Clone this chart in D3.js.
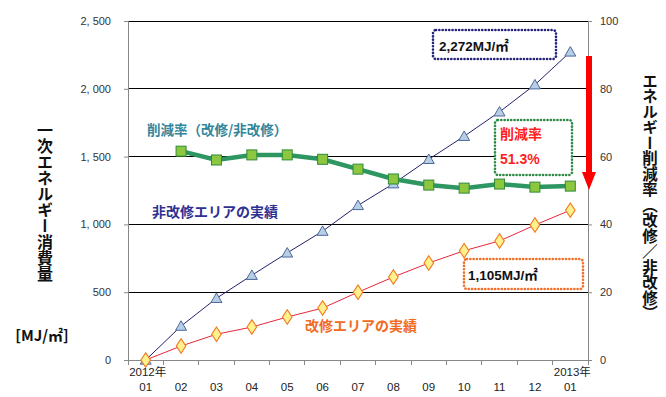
<!DOCTYPE html>
<html><head><meta charset="utf-8">
<script src="https://cdn.jsdelivr.net/npm/d3@7"></script>
<style>
html,body{margin:0;padding:0;background:#fff;}
svg{display:block;}
</style></head>
<body><svg id="c" width="666" height="397"></svg>
<script>
const months = ["01","02","03","04","05","06","07","08","09","10","11","12","01b"];
const monthLabels = ["01","02","03","04","05","06","07","08","09","10","11","12","01"];
const yearLabels = {0:"2012年", 12:"2013年"};
const nonRenovated = [0, 250, 455, 625, 790, 950, 1140, 1300, 1480, 1650, 1830, 2030, 2272];
const renovated = [0, 103, 190, 243, 317, 383, 500, 612, 715, 806, 878, 995, 1105];
const reductionRate = [null, 61.6, 59.0, 60.5, 60.5, 59.2, 56.3, 53.4, 51.6, 50.7, 51.9, 51.0, 51.3];
const leftTicks = [0, 500, 1000, 1500, 2000, 2500];
const rightTicks = [0, 20, 40, 60, 80, 100];

const svg = d3.select("#c");
const L = 128, R = 588, T = 21, B = 360;
const x = d3.scaleBand().domain(months).range([L, R]);
const y = d3.scaleLinear().domain([0, 2500]).range([B, T]);
const y2 = d3.scaleLinear().domain([0, 100]).range([B, T]);
const cx = (i) => x(months[i]) + x.bandwidth() / 2;
const numFont = "'Liberation Sans', Arial, 'Noto Sans CJK JP', sans-serif";
const jpFont = "'Noto Sans CJK JP', sans-serif";

// gridlines
svg.append("g").selectAll("line").data(leftTicks.filter(d => d > 0)).join("line")
  .attr("x1", L).attr("x2", R).attr("y1", d => y(d)).attr("y2", d => y(d))
  .attr("stroke", "#000").attr("stroke-width", 1).attr("shape-rendering", "crispEdges");

// left axis
const la = svg.append("g").attr("transform", `translate(${L},0)`)
  .call(d3.axisLeft(y).tickValues(leftTicks).tickSize(4).tickPadding(13)
    .tickFormat(d => d3.format(",")(d).replace(",", ", ")));
la.select(".domain").attr("stroke", "#888");
la.selectAll(".tick line").attr("stroke", "#888");
la.selectAll("text").attr("font-family", numFont).attr("font-size", 11).attr("fill", "#333");

// right axis
const ra = svg.append("g").attr("transform", `translate(${R},0)`)
  .call(d3.axisRight(y2).tickValues(rightTicks).tickSize(4).tickPadding(8));
ra.select(".domain").attr("stroke", "#888");
ra.selectAll(".tick line").attr("stroke", "#888");
ra.selectAll("text").attr("font-family", numFont).attr("font-size", 11).attr("fill", "#333");

// bottom axis
svg.append("line").attr("x1", L).attr("x2", R).attr("y1", B).attr("y2", B)
  .attr("stroke", "#888").attr("shape-rendering", "crispEdges");
svg.append("g").selectAll("line").data(months.map((m, i) => i).concat([13])).join("line")
  .attr("x1", i => L + i * x.bandwidth()).attr("x2", i => L + i * x.bandwidth())
  .attr("y1", B).attr("y2", B + 5).attr("stroke", "#888").attr("shape-rendering", "crispEdges");
svg.append("g").selectAll("text").data(monthLabels).join("text")
  .attr("x", (d, i) => cx(i)).attr("y", 391).attr("text-anchor", "middle")
  .attr("font-family", numFont).attr("font-size", 11.5).attr("fill", "#222").text(d => d);
Object.entries(yearLabels).forEach(([i, t]) => {
  svg.append("text").attr("x", cx(+i) + 2).attr("y", 376).attr("text-anchor", "middle")
    .attr("font-family", numFont).attr("font-size", 11.5).attr("fill", "#222").text(t);
});

// non-renovated line (navy)
svg.append("path").datum(nonRenovated)
  .attr("d", d3.line().x((d, i) => cx(i)).y(d => y(d)))
  .attr("fill", "none").attr("stroke", "#22226e").attr("stroke-width", 1);
// renovated line (red)
svg.append("path").datum(renovated)
  .attr("d", d3.line().x((d, i) => cx(i)).y(d => y(d)))
  .attr("fill", "none").attr("stroke", "#e8283c").attr("stroke-width", 1);
// reduction line (green)
svg.append("path").datum(reductionRate)
  .attr("d", d3.line().defined(d => d != null).x((d, i) => cx(i)).y(d => y2(d)))
  .attr("fill", "none").attr("stroke", "#2e9660").attr("stroke-width", 4.5);

// markers
const tri = d3.symbol().type(d3.symbolTriangle).size(52);
svg.append("g").selectAll("path").data(nonRenovated).join("path")
  .attr("d", tri).attr("transform", (d, i) => `translate(${cx(i)},${y(d) + 1})`)
  .attr("fill", "#b9cde5").attr("stroke", "#4a6a9c").attr("stroke-width", 1);
const dia = d3.symbol().type(d3.symbolDiamond).size(60);
svg.append("g").selectAll("path").data(renovated).join("path")
  .attr("d", dia).attr("transform", (d, i) => `translate(${cx(i)},${y(d)}) scale(1.15,1)`)
  .attr("fill", "#fff18e").attr("stroke", "#f07a20").attr("stroke-width", 1);
svg.append("g").selectAll("rect").data(reductionRate.map((v, i) => ({v, i})).filter(d => d.v != null)).join("rect")
  .attr("x", d => cx(d.i) - 5).attr("y", d => y2(d.v) - 5).attr("width", 10).attr("height", 10)
  .attr("fill", "#8dc63f").attr("stroke", "#2e8b3a").attr("stroke-width", 1);

// series labels
svg.append("text").attr("x", 147).attr("y", 135).attr("font-family", jpFont).attr("font-weight", "bold")
  .attr("font-size", 13.5).attr("fill", "#31869b").text("削減率（改修/非改修）");
svg.append("text").attr("x", 152).attr("y", 217).attr("font-family", jpFont).attr("font-weight", "bold")
  .attr("font-size", 14).attr("fill", "#2e3192").text("非改修エリアの実績");
svg.append("text").attr("x", 305).attr("y", 331).attr("font-family", jpFont).attr("font-weight", "bold")
  .attr("font-size", 14).attr("fill", "#f26b22").text("改修エリアの実績");

// annotation boxes
function box(x0, y0, w, h, color) {
  svg.append("rect").attr("x", x0).attr("y", y0).attr("width", w).attr("height", h).attr("rx", 3)
    .attr("fill", "#fff").attr("stroke", color).attr("stroke-width", 2.6)
    .attr("stroke-dasharray", "0.1 3.2").attr("stroke-linecap", "round");
}
box(433, 30, 123, 29, "#23237a");
svg.append("text").attr("x", 439).attr("y", 51).attr("font-family", numFont).attr("font-weight", "bold")
  .attr("font-size", 13.5).attr("fill", "#111").text("2,272MJ/㎡");
box(495, 120, 77, 55, "#2e8b45");
svg.append("text").attr("x", 500).attr("y", 139).attr("font-family", jpFont).attr("font-weight", "bold")
  .attr("font-size", 14).attr("fill", "#ff1e1e").text("削減率");
svg.append("text").attr("x", 500).attr("y", 164).attr("font-family", numFont).attr("font-weight", "bold")
  .attr("font-size", 14).attr("fill", "#ff1e1e").text("51.3%");
box(464, 259, 119, 30, "#f0702a");
svg.append("text").attr("x", 468).attr("y", 280).attr("font-family", numFont).attr("font-weight", "bold")
  .attr("font-size", 13.5).attr("fill", "#111").text("1,105MJ/㎡");

// red arrow
svg.append("path")
  .attr("d", "M586,56 L592,56 L592,172 L596,172 L589,190 L582,172 L586,172 Z")
  .attr("fill", "#ff0000");

// axis titles
svg.append("text").attr("x", 45).attr("y", 122)
  .attr("style", "writing-mode: vertical-rl; text-orientation: upright;")
  .attr("font-family", jpFont).attr("font-weight", "bold").attr("font-size", 16)
  .attr("fill", "#111").text("一次エネルギー消費量");
svg.append("text").attr("x", 42).attr("y", 341).attr("text-anchor", "middle")
  .attr("font-family", jpFont).attr("font-weight", "bold").attr("font-size", 15)
  .attr("fill", "#111").text("[MJ/㎡]");
svg.append("text").attr("x", 650).attr("y", 73)
  .attr("style", "writing-mode: vertical-rl;")
  .attr("font-family", jpFont).attr("font-weight", "bold").attr("font-size", 15.5)
  .attr("fill", "#111").text("エネルギー削減率（改修／非改修）");
</script></body></html>
